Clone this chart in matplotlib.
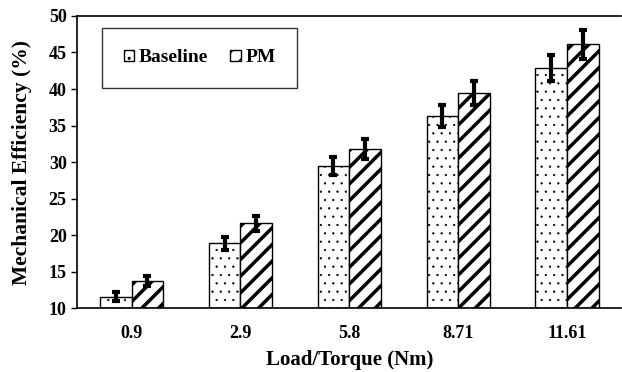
import numpy as np
import matplotlib
matplotlib.use("Agg")
import matplotlib.pyplot as plt

# data
loads = ['0.9', '2.9', '5.8', '8.71', '11.61']
baseline = [11.55, 18.85, 29.5, 36.25, 42.9]
pm = [13.65, 21.6, 31.8, 39.45, 46.1]
baseline_err = [0.6, 0.9, 1.25, 1.5, 1.75]
pm_err = [0.7, 1.0, 1.4, 1.7, 1.95]

plt.rcParams['font.family'] = ['Liberation Serif', 'DejaVu Serif']
plt.rcParams['font.weight'] = 'bold'

fig = plt.figure(figsize=(6.22, 3.72), dpi=100)
ax = fig.add_axes([0.124, 0.172, 0.875, 0.785])

x = np.arange(len(loads))
w = 0.29
err_kw = dict(elinewidth=3, capsize=3, capthick=3, ecolor='black')

# thin dots for baseline, thick stripes for PM
plt.rcParams['hatch.linewidth'] = 0.4
b1 = ax.bar(x - w / 2, np.array(baseline) - 10, w, bottom=10, color='white',
            edgecolor='black', linewidth=1, hatch='..', label='Baseline',
            yerr=baseline_err, error_kw=err_kw)
plt.rcParams['hatch.linewidth'] = 2.5
b2 = ax.bar(x + w / 2, np.array(pm) - 10, w, bottom=10, color='white',
            edgecolor='black', linewidth=1, hatch='//', label='PM',
            yerr=pm_err, error_kw=err_kw)

ax.set_xlim(-0.5, len(loads) - 0.5)
ax.set_ylim(10, 50)
ax.set_yticks(range(10, 51, 5))
ax.set_xticks(x)
ax.set_xticklabels(loads)
ax.tick_params(axis='x', length=0, pad=12, labelsize=13)
ax.tick_params(axis='y', length=4, width=1, labelsize=13)
ax.spines['right'].set_visible(False)
for s in ['left', 'bottom', 'top']:
    ax.spines[s].set_linewidth(1.2)

ax.set_xlabel('Load/Torque (Nm)', fontsize=15, fontweight='bold', labelpad=6)
ax.set_ylabel('Mechanical Efficiency (%)', fontsize=15.5, fontweight='bold', labelpad=12)

plt.rcParams['hatch.linewidth'] = 1.0
leg = ax.legend(loc='upper left', bbox_to_anchor=(0.046, 0.959), ncol=2,
                fontsize=14, frameon=True, fancybox=False, edgecolor='black',
                handlelength=0.55, handleheight=0.55, handletextpad=0.25,
                columnspacing=1.1, borderpad=1.1, borderaxespad=0)
leg.get_frame().set_linewidth(1)

plt.savefig('out.png', dpi=100)
